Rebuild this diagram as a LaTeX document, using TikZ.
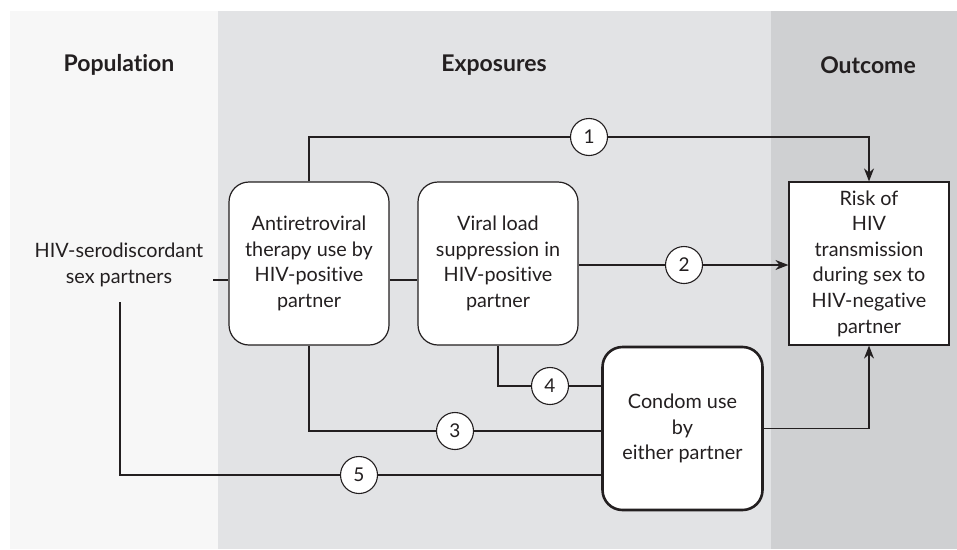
\documentclass[tikz,border=0pt]{standalone}
\usepackage{fontspec}
\setmainfont{Lato}[Ligatures=NoCommon]
\usetikzlibrary{arrows.meta,positioning}
\definecolor{popbg}{HTML}{F7F7F7}
\definecolor{expbg}{HTML}{E2E3E5}
\definecolor{outbg}{HTML}{CFD0D2}
\definecolor{ink}{HTML}{231F20}
\tikzset{
  boxtxt/.style={font=\fontsize{19.8}{25.6}\selectfont, text=ink, align=center},
  rbox/.style={boxtxt, draw=ink, fill=white, line width=1.2pt, rounded corners=20pt,
    minimum width=160pt, minimum height=163pt, inner sep=0pt},
  sbox/.style={boxtxt, draw=ink, fill=white, line width=1.2pt,
    minimum width=160pt, minimum height=163pt, inner sep=0pt},
  num/.style={circle, draw=ink, fill=white, line width=1.1pt, minimum size=37pt, inner sep=0pt,
    font=\fontsize{19}{22}\selectfont, text=ink},
  head/.style={font=\bfseries\fontsize{23}{26}\selectfont, text=ink},
  conn/.style={draw=ink, line width=1.1pt},
  arr/.style={conn, -{Stealth[length=13pt,width=10pt]}}
}
\begin{document}
\begin{tikzpicture}[x=1pt,y=-1pt]
\useasboundingbox (0,0) rectangle (957,549);
\fill[white] (0,0) rectangle (957,549);
\fill[popbg] (10,11) rectangle (218,549);
\fill[expbg] (218,11) rectangle (771,549);
\fill[outbg] (771,11) rectangle (957,549);

\node[head] (hpop) at (119,65) {Population};
\node[head] (hexp) at (494,65) {Exposures};
\node[head] (hout) at (868,65) {Outcome};

\node[boxtxt, inner sep=0pt] (pop) at (119,265) {HIV-serodiscordant\\sex partners};
\coordinate (popr) at (213,280);
\coordinate (popb) at (120,302);

\node[rbox] (art) at (309,263.5) {Antiretroviral\\therapy use by\\HIV-positive\\partner};
\node[rbox] (vl) at (498,263.5) {Viral load\\suppression in\\HIV-positive\\partner};
\node[sbox] (risk) at (869,263.5) {Risk of\\HIV\\transmission\\during sex to\\HIV-negative\\partner};
\node[rbox, line width=2.6pt] (cond) at (682.5,428.5) {Condom use\\by\\either partner};

\node[num] (c1) at (589,137) {1};
\node[num] (c2) at (684,265) {2};
\node[num] (c3) at (455,431) {3};
\node[num] (c4) at (550,386) {4};
\node[num] (c5) at (359,475) {5};

\draw[conn] (popr) -- (popr -| art.west);
\draw[conn] ([yshift=-16.5pt]art.east) -- ([yshift=-16.5pt]vl.west);

\draw[conn] (art.north) |- (c1);
\draw[arr] (c1) -| (risk.north);

\draw[conn] (vl.east |- c2) -- (c2);
\draw[arr] (c2) -- (risk.west |- c2);

\draw[conn] (art.south) |- (c3);
\draw[conn] (c3) -- (cond.west |- c3);

\draw[conn] (vl.south) |- (c4);
\draw[conn] (c4) -- (cond.west |- c4);

\draw[conn] (popb) |- (c5);
\draw[conn] (c5) -- (cond.west |- c5);

\draw[arr] (cond.east) -| (risk.south);
\end{tikzpicture}
\end{document}
